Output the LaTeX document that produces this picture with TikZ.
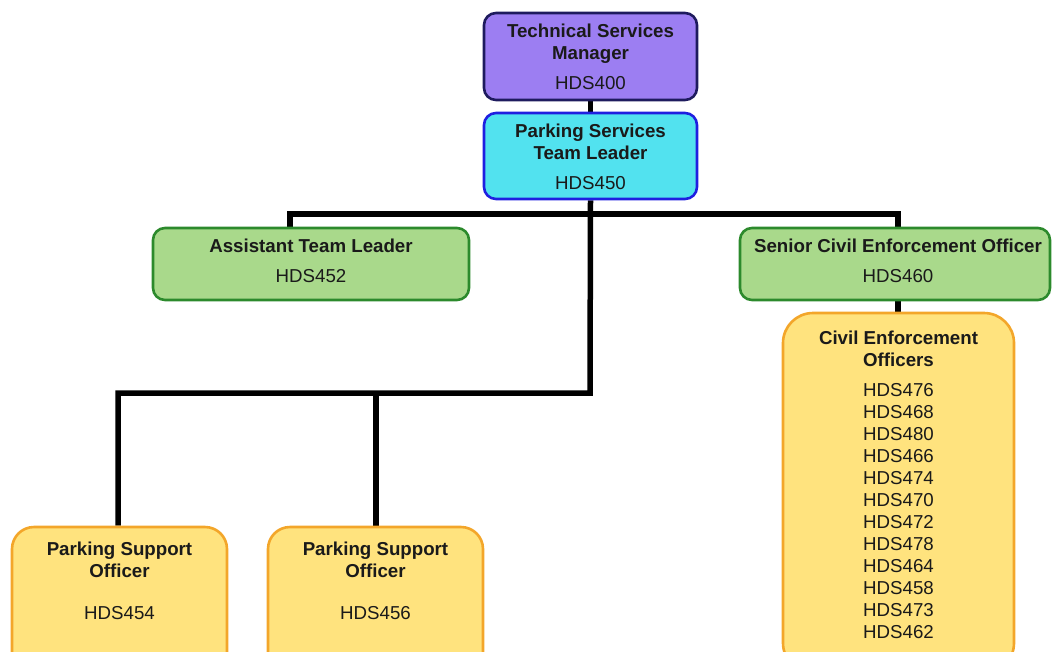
\documentclass[tikz,border=0pt]{standalone}
\usepackage{fontspec}
\setmainfont{Liberation Sans}
\usetikzlibrary{backgrounds}
\definecolor{purpfill}{HTML}{9C7EF2}
\definecolor{purpdraw}{HTML}{1E1B5E}
\definecolor{cyanfill}{HTML}{52E2EF}
\definecolor{cyandraw}{HTML}{1F1FE0}
\definecolor{greenfill}{HTML}{A9D98B}
\definecolor{greendraw}{HTML}{2C8A2C}
\definecolor{yelfill}{HTML}{FFE37E}
\definecolor{yeldraw}{HTML}{F3A62A}
\definecolor{txtcol}{HTML}{1A1A1A}
\begin{document}
\begin{tikzpicture}[x=1pt,y=-1pt,
  box/.style={draw, line width=2.6pt, rounded corners=12pt, inner sep=0pt},
  purplebox/.style={box, fill=purpfill, draw=purpdraw},
  cyanbox/.style={box, fill=cyanfill, draw=cyandraw},
  greenbox/.style={box, fill=greenfill, draw=greendraw},
  yellowbox/.style={box, fill=yelfill, draw=yeldraw},
  txt/.style={align=center, text=txtcol, inner sep=0pt, font=\fontsize{18.7}{22}\selectfont},
  link/.style={line width=5.5pt, black}
]
\useasboundingbox (0,0) rectangle (1052,651);
% boxes
\node[purplebox, minimum width=213pt, minimum height=87pt] (tsm) at (590.5,56.5) {};
\node[cyanbox, minimum width=213pt, minimum height=86pt] (pstl) at (590.5,156) {};
\node[greenbox, minimum width=316pt, minimum height=72pt] (atl) at (311,264) {};
\node[greenbox, minimum width=310pt, minimum height=72pt] (sceo) at (895,264) {};
\node[yellowbox, rounded corners=30pt, minimum width=231pt, minimum height=360pt] (ceo) at (898.5,493) {};
\node[yellowbox, rounded corners=22pt, minimum width=215pt, minimum height=150pt] (pso1) at (119.5,602) {};
\node[yellowbox, rounded corners=22pt, minimum width=215pt, minimum height=150pt] (pso2) at (375.5,602) {};

% texts
\node[txt] (tsmt) at (590.5,57) {\textbf{Technical Services}\\\textbf{Manager}\\[8pt]HDS400};
\node[txt] (pstlt) at (590.5,157) {\textbf{Parking Services}\\\textbf{Team Leader}\\[8pt]HDS450};
\node[txt] (atlt) at (311,260.5) {\textbf{Assistant Team Leader}\\[8pt]HDS452};
\node[txt] (sceot) at (898,260.5) {\textbf{Senior Civil Enforcement Officer}\\[8pt]HDS460};
\node[txt] (ceot) at (898.5,485) {\textbf{Civil Enforcement}\\\textbf{Officers}\\[8pt]HDS476\\HDS468\\HDS480\\HDS466\\HDS474\\HDS470\\HDS472\\HDS478\\HDS464\\HDS458\\HDS473\\HDS462};
\node[txt] (pso1t) at (119.5,580.5) {\textbf{Parking Support}\\\textbf{Officer}\\[20pt]HDS454};
\node[txt] (pso2t) at (375.5,580.5) {\textbf{Parking Support}\\\textbf{Officer}\\[20pt]HDS456};

% connector bends
\coordinate (a1) at (290,214);
\coordinate (s1) at (898,214);
\coordinate (m2) at (590,393);
\coordinate (p1) at (118,393);
\coordinate (p2) at (376,393);

\begin{scope}[on background layer]
\draw[link] (tsm.south) -- (pstl.north);
\draw[link] (atl.north -| a1) -- (a1) -- (s1) -- (sceo.north -| s1);
\draw[link] (pstl.south) -- (m2) -- (p1) -- (pso1.north -| p1);
\draw[link] (p2) -- (pso2.north -| p2);
\draw[link] (sceo.south -| s1) -- (ceo.north -| s1);
\end{scope}
\end{tikzpicture}
\end{document}
